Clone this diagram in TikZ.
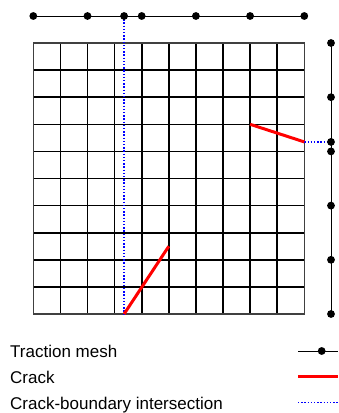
\documentclass[tikz,border=0pt]{standalone}
\usepackage{fontspec}
\setmainfont{Liberation Sans}
\begin{document}
\begin{tikzpicture}[x=1pt,y=-1pt,
  meshline/.style={black,line width=1pt},
  meshdot/.style={circle,fill=black,inner sep=0pt,minimum size=7.8pt},
  crackline/.style={red,line width=3pt},
  isect/.style={blue,line width=1.4pt,dash pattern=on 1.4pt off 1.8pt},
  gridline/.style={black,line width=1.6pt},
  gridborder/.style={black!75,line width=1.1pt},
  lbl/.style={anchor=base west,inner sep=0pt,font=\fontsize{17}{20}\selectfont}]
\useasboundingbox (0,0) rectangle (338,413);
\def\gx{33.3}\def\gy{43}\def\cs{27.1}
% grid
\foreach \i in {1,...,9}{
  \draw[gridline] ({\gx+\i*\cs},\gy) -- ({\gx+\i*\cs},{\gy+10*\cs});
  \draw[gridline] (\gx,{\gy+\i*\cs}) -- ({\gx+10*\cs},{\gy+\i*\cs});
}
\draw[gridborder] (\gx,\gy) rectangle ({\gx+10*\cs},{\gy+10*\cs});
% key coordinates
\coordinate (c1a) at ({\gx+3.35*\cs},{\gy+10*\cs});
\coordinate (c1b) at ({\gx+5*\cs},{\gy+7.5*\cs});
\coordinate (c2a) at ({\gx+8*\cs},{\gy+3*\cs});
\coordinate (c2b) at ({\gx+10*\cs},{\gy+3.65*\cs});
\coordinate (ti) at ({\gx+3.35*\cs},16);
\coordinate (ri) at (331,{\gy+3.65*\cs});
% intersections
\draw[isect] (ti) -- (c1a);
\draw[isect] (c2b) -- (ri);
% cracks
\draw[crackline] (c1a) -- (c1b);
\draw[crackline] (c2a) -- (c2b);
% traction meshes
\foreach \k in {0,...,5}{
  \coordinate (t\k) at ({\gx+2*\k*\cs},16);
  \coordinate (r\k) at (331,{\gy+2*\k*\cs});
}
\draw[meshline] (t0) -- (t5);
\draw[meshline] (r0) -- (r5);
\foreach \k in {0,...,5}{
  \node[meshdot] (td\k) at (t\k) {};
  \node[meshdot] (rd\k) at (r\k) {};
}
\node[meshdot] (tdi) at (ti) {};
\node[meshdot] (rdi) at (ri) {};
% legend
\node[lbl] (lt1) at (10,357) {Traction mesh};
\node[lbl] (lt2) at (10,383) {Crack};
\node[lbl] (lt3) at (10,409) {Crack-boundary intersection};
\coordinate (l1a) at (298,351); \coordinate (l1b) at (338,351);
\coordinate (l2a) at (298,376.7); \coordinate (l2b) at (338,376.7);
\coordinate (l3a) at (298,402.3); \coordinate (l3b) at (338,402.3);
\draw[meshline] (l1a) -- (l1b);
\node[meshdot] (l1d) at (321.7,351) {};
\draw[crackline] (l2a) -- (l2b);
\draw[isect] (l3a) -- (l3b);
\end{tikzpicture}
\end{document}
